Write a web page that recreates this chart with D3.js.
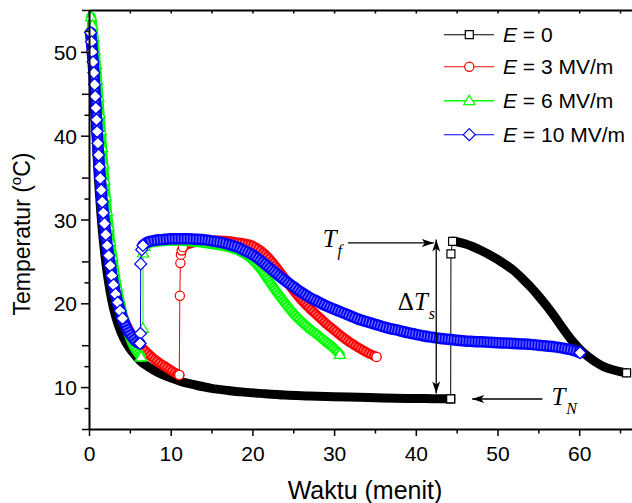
<!DOCTYPE html>
<html><head><meta charset="utf-8">
<script src="https://cdn.jsdelivr.net/npm/d3@7"></script>
<style>body{margin:0;background:#fff}svg{display:block}</style>
</head><body><svg id="c" width="632" height="503"></svg>
<script>
// ---------- DATA (time in minutes, temperature in °C) ----------
const xMajorTicks = [0,10,20,30,40,50,60];
const xMinorTicks = [5,15,25,35,45,55,65];
const yMajorTicks = [10,20,30,40,50];
const yMinorTicks = [5,7.5,12.5,15,22.5,25,32.5,35,42.5,45,52.5,55];

const legendLabels = ["0","3 MV/m","6 MV/m","10 MV/m"];

// E = 0
const blackCool = [[0.3,53.0],[0.45,49.5],[0.6,46],[0.75,42.5],[0.9,39.5],[1.05,36.5],[1.25,33.5],[1.45,30.8],[1.7,28.0],[2.0,25.3],[2.35,22.8],[2.8,20.3],[3.3,18.3],[3.9,16.6],[4.6,15.2],[5.4,14.1],[6.3,13.1],[7.3,12.4],[8.5,11.7],[10,11.1],[11.5,10.6],[13,10.25],[15,9.85],[17,9.6],[19,9.4],[21,9.25],[24,9.05],[27,8.95],[30,8.85],[33,8.78],[36,8.7],[39,8.65],[42,8.62],[44.27,8.6]];
const blackJump = [[44.27,8.6],[44.3,25.9],[44.5,27.4]];
const blackWarm = [[44.5,27.4],[45,27.35],[46,27.1],[47,26.75],[48,26.3],[49,25.8],[50,25.25],[51,24.6],[52,23.9],[53,23.0],[54,22.0],[55,20.9],[56,19.7],[57,18.4],[58,17.0],[59,15.7],[60,14.6],[61,13.7],[62,13.0],[63,12.45],[64,12.1],[65,11.85],[65.8,11.7]];

// E = 3 MV/m
const redCool = [[0.45,52.5],[0.55,50.5],[0.65,48.5],[0.75,46.5],[0.85,44.5],[0.95,42.6],[1.05,40.8],[1.2,38.8],[1.35,36.8],[1.5,34.8],[1.7,32.6],[1.9,30.6],[2.15,28.5],[2.4,26.5],[2.7,24.5],[3.0,22.7],[3.4,20.9],[3.8,19.4],[4.3,18.0],[4.9,16.8],[5.5,15.8],[6.2,15.0],[7.0,14.2],[7.8,13.5],[8.6,12.9],[9.4,12.4],[10.2,11.9],[11.05,11.45]];
const redJump = [[11.05,11.45],[11.12,20.9],[11.18,24.8],[11.25,25.8],[11.35,26.3],[11.5,26.7]];
const redWarm = [[11.5,26.7],[12,27.0],[13,27.3],[14,27.45],[15,27.5],[16,27.5],[17,27.45],[18,27.3],[19,27.15],[20,26.9],[21,26.3],[22,25.4],[23,24.2],[24,22.9],[25,21.6],[26,20.4],[27,19.4],[28,18.5],[29,17.6],[30,16.8],[31,16.0],[32,15.3],[33,14.7],[34,14.15],[35.2,13.6]];

// E = 6 MV/m
const greenCool = [[0.25,54.2],[0.4,53.2],[0.55,51.8],[0.7,50.2],[0.85,48.5],[1.0,46.6],[1.15,44.6],[1.3,42.6],[1.45,40.6],[1.6,38.6],[1.75,36.6],[1.9,34.7],[2.05,32.8],[2.2,31.0],[2.4,29.2],[2.6,27.4],[2.85,25.6],[3.1,23.8],[3.4,22.0],[3.75,20.3],[4.1,18.8],[4.5,17.4],[4.95,16.1],[5.4,15.0],[5.9,14.2],[6.37,13.6]];
const greenJump = [[6.37,13.6],[6.6,17.0],[6.62,26.0],[6.8,26.8]];
const greenWarm = [[6.8,26.8],[7.3,27.1],[8,27.3],[9,27.4],[10,27.45],[11,27.45],[12,27.4],[13,27.3],[14,27.2],[15,27.05],[16,26.9],[17,26.7],[18,26.4],[19,25.9],[20,25.2],[21,24.1],[22,22.7],[23,21.3],[24,20.0],[25,18.8],[26,17.8],[27,16.95],[28,16.2],[29,15.4],[30,14.6],[30.7,13.9]];

// E = 10 MV/m
const blueCool = [[0.2,52.3],[0.3,51.2],[0.4,50.0],[0.5,48.8],[0.6,47.5],[0.68,46.1],[0.76,44.7],[0.84,43.3],[0.92,41.9],[1.0,40.5],[1.08,39.1],[1.17,37.7],[1.27,36.3],[1.38,34.9],[1.5,33.5],[1.62,32.1],[1.75,30.8],[1.9,29.5],[2.05,28.2],[2.22,26.9],[2.4,25.7],[2.6,24.5],[2.8,23.3],[3.0,22.2],[3.25,21.1],[3.5,20.1],[3.8,19.1],[4.1,18.2],[4.45,17.4],[4.8,16.7],[5.2,16.1],[5.6,15.6],[6.0,15.3],[6.24,15.2]];
const blueJump = [[6.24,15.2],[6.3,16.4],[6.33,24.7],[6.45,26.4],[6.6,26.9]];
const blueWarm = [[6.6,26.9],[7,27.2],[7.5,27.4],[8,27.5],[9,27.6],[10,27.7],[11,27.7],[12,27.7],[13,27.65],[14,27.6],[15,27.45],[16,27.3],[17,27.05],[18,26.75],[19,26.3],[20,25.8],[21,25.1],[22,24.3],[23,23.5],[24,22.7],[25,22.0],[26,21.3],[27,20.7],[28,20.2],[29,19.7],[30,19.3],[31,18.9],[32,18.5],[33,18.1],[34,17.8],[35,17.5],[36,17.2],[37,16.95],[38,16.75],[39,16.5],[40,16.3],[41,16.1],[42,15.95],[43,15.8],[44,15.7],[45,15.6],[46,15.5],[47,15.45],[48,15.4],[49,15.35],[50,15.3],[51,15.25],[52,15.2],[53,15.15],[54,15.1],[55,15.0],[56,14.9],[57,14.8],[58,14.65],[59,14.45],[60.1,14.1]];

// ---------- CHART ----------
const svg = d3.select("#c");
const x = d3.scaleLinear().domain([0,67]).range([89, 89 + 67*8.17]);
const y = d3.scaleLinear().domain([5,55]).range([429,10]);

const series = [
  {label: legendLabels[0], color:"#000000", shape:"square",   cool:blackCool, jump:blackJump, warm:blackWarm, w:9,  tex:false, steepMarks:false},
  {label: legendLabels[1], color:"#ff0000", shape:"circle",   cool:redCool,   jump:redJump,   warm:redWarm,   w:10, tex:true, steepMarks:true},
  {label: legendLabels[2], color:"#00ff00", shape:"triangle", cool:greenCool, jump:greenJump, warm:greenWarm, w:10, tex:true, steepMarks:true},
  {label: legendLabels[3], color:"#0000ff", shape:"diamond",  cool:blueCool,  jump:blueJump,  warm:blueWarm,  w:11.5, tex:true, steepMarks:true}
];

function shapePath(type, cx, cy) {
  if (type === "square") { const h = 4; return `M${cx-h},${cy-h}h${2*h}v${2*h}h${-2*h}Z`; }
  if (type === "circle") { const r = 4.6; return `M${cx-r},${cy}a${r},${r} 0 1,0 ${2*r},0a${r},${r} 0 1,0 ${-2*r},0Z`; }
  if (type === "triangle") { return `M${cx},${cy-5.5}L${cx+5.6},${cy+4}L${cx-5.6},${cy+4}Z`; }
  const d = 6; return `M${cx},${cy-d}L${cx+d},${cy}L${cx},${cy+d}L${cx-d},${cy}Z`;
}

const plot = svg.append("g");
const lineLin = d3.line().x(d => x(d[0])).y(d => y(d[1]));
const lineSmooth = d3.line().x(d => x(d[0])).y(d => y(d[1])).curve(d3.curveMonotoneX);

series.forEach(s => {
  const g = plot.append("g");
  const all = s.cool.concat(s.jump.slice(1), s.warm.slice(1));
  g.append("path").attr("d", lineLin(all)).attr("fill","none").attr("stroke", s.color).attr("stroke-width",1);
  [s.cool, s.warm].forEach(seg => {
    g.append("path").attr("d", lineSmooth(seg)).attr("fill","none")
      .attr("stroke", s.color).attr("stroke-width", s.w).attr("stroke-linecap","round").attr("stroke-linejoin","round");
    if (s.tex) {
      g.append("path").attr("d", lineSmooth(seg)).attr("fill","none")
        .attr("stroke", "#ffffff").attr("stroke-opacity", 0.45).attr("stroke-width", s.w - 5)
        .attr("stroke-dasharray","1.2 1.8");
    }
  });
  const steep = s.steepMarks ? s.cool.filter(d => d[1] >= 18) : [];
  const pts = steep.concat(s.jump, [s.cool[s.cool.length-1], s.warm[s.warm.length-1]]);
  g.selectAll(null).data(pts).join("path")
    .attr("d", d => shapePath(s.shape, x(d[0]), y(d[1])))
    .attr("fill","#ffffff").attr("stroke", s.color).attr("stroke-width", 1.2);
});

// ---------- AXES ----------
const font = "'Liberation Sans', Arial, sans-serif";
function styleAxis(g) {
  g.select(".domain").attr("stroke","#000").attr("stroke-width",2);
  g.selectAll(".tick line").attr("stroke","#000").attr("stroke-width",1.5);
  g.selectAll("text").attr("font-family", font).attr("font-size", 21).attr("fill","#000");
}
const xAx = svg.append("g").attr("transform","translate(0,429)")
  .call(d3.axisBottom(x).tickValues(xMajorTicks).tickSize(7).tickSizeOuter(0).tickFormat(d3.format("d")));
styleAxis(xAx);
xAx.selectAll("text").attr("dy", null).attr("y", 31.7);
const xAxMin = svg.append("g").attr("transform","translate(0,429)")
  .call(d3.axisBottom(x).tickValues(xMinorTicks).tickSize(4.5).tickSizeOuter(0).tickFormat(""));
styleAxis(xAxMin); xAxMin.select(".domain").remove();

const xTop = svg.append("g").attr("transform","translate(0,10)")
  .call(d3.axisTop(x).tickValues(xMajorTicks.concat(xMinorTicks)).tickSize(-3.5).tickSizeOuter(0).tickFormat(""));
styleAxis(xTop);

const yAx = svg.append("g").attr("transform","translate(89,0)")
  .call(d3.axisLeft(y).tickValues(yMajorTicks).tickSize(8).tickSizeOuter(0).tickFormat(d3.format("d")));
styleAxis(yAx);
yAx.selectAll("text").attr("x", -12).attr("dy", "0.36em");
const yAxMin = svg.append("g").attr("transform","translate(89,0)")
  .call(d3.axisLeft(y).tickValues(yMinorTicks).tickSize(0).tickSizeOuter(0).tickFormat(""));
yAxMin.select(".domain").remove();
yAxMin.selectAll(".tick line").attr("x2", d => (d % 5 === 0) ? -7 : -4.5).attr("stroke","#000").attr("stroke-width",1.5);

// axis titles
svg.append("text").attr("x", 365).attr("y", 498.5).attr("text-anchor","middle")
  .attr("font-family", font).attr("font-size", 25).text("Waktu (menit)");
const yt = svg.append("text").attr("transform","translate(30,234) rotate(-90)").attr("text-anchor","middle")
  .attr("font-family", font).attr("font-size", 23);
yt.append("tspan").text("Temperatur (");
yt.append("tspan").attr("font-size", 15).attr("dy", -9).text("o");
yt.append("tspan").attr("dy", 9).text("C)");

// ---------- LEGEND ----------
const leg = svg.append("g");
const legY = [34.7, 66.7, 100.7, 134.7];
series.forEach((s, i) => {
  const cy = legY[i];
  leg.append("line").attr("x1",444).attr("x2",494).attr("y1",cy).attr("y2",cy)
    .attr("stroke", s.color).attr("stroke-width", s.color === "#00ff00" ? 1.6 : 1.1);
  leg.append("path").attr("d", shapePath(s.shape, 469.3, cy)).attr("fill","#fff").attr("stroke", s.color).attr("stroke-width",1.2);
  const t = leg.append("text").attr("x",503).attr("y",cy+7.5).attr("font-family",font).attr("font-size",21);
  t.append("tspan").attr("font-style","italic").text("E");
  t.append("tspan").text(" = " + s.label);
});

// ---------- ANNOTATIONS ----------
const defs = svg.append("defs");
defs.append("marker").attr("id","ah").attr("viewBox","0 0 12 8").attr("refX",12).attr("refY",4)
  .attr("markerWidth",12).attr("markerHeight",8).attr("markerUnits","userSpaceOnUse").attr("orient","auto-start-reverse")
  .append("path").attr("d","M0,0L12,4L0,8L3,4Z").attr("fill","#000");
const ann = svg.append("g").attr("stroke","#000").attr("stroke-width",1.3);
ann.append("line").attr("x1",x(31.7)).attr("x2",x(42.2)).attr("y1",y(27.2)).attr("y2",y(27.2)).attr("marker-end","url(#ah)");
ann.append("line").attr("x1",x(42.5)).attr("x2",x(42.5)).attr("y1",y(27.6)).attr("y2",y(9.25))
  .attr("marker-end","url(#ah)").attr("marker-start","url(#ah)");
ann.append("line").attr("x1",x(55.5)).attr("x2",x(46.9)).attr("y1",y(8.58)).attr("y2",y(8.58)).attr("marker-end","url(#ah)");

const serif = "'Liberation Serif', 'Times New Roman', serif";
function sym(px, py, main, sub, pre) {
  const t = svg.append("text").attr("x",px).attr("y",py).attr("font-family",serif).attr("font-size",25);
  if (pre) t.append("tspan").text(pre);
  t.append("tspan").attr("font-style","italic").text(main);
  t.append("tspan").attr("font-style","italic").attr("font-size",16).attr("dy",9).attr("dx",1).text(sub);
}
sym(x(28.6), y(26.75), "T", "f");
sym(x(37.8), y(19.2), "T", "s", "\u0394");
sym(x(56.6), y(7.85), "T", "N");
</script></body></html>
